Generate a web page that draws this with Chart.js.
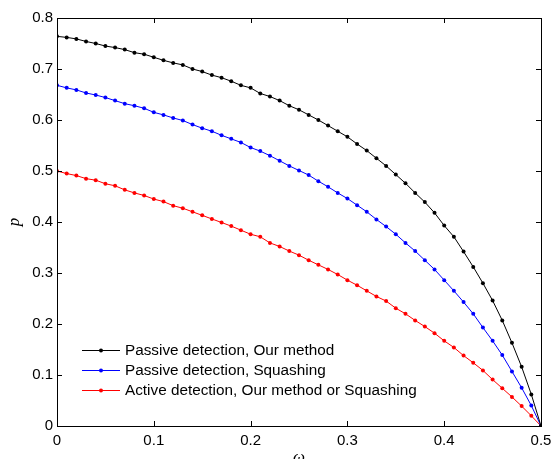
<!DOCTYPE html>
<html>
<head>
<meta charset="utf-8">
<script src="https://cdn.jsdelivr.net/npm/chart.js@4/dist/chart.umd.min.js"></script>
<style>
  html, body { margin: 0; padding: 0; background: #fff; overflow: hidden; }
  #wrap { width: 558px; height: 459px; overflow: hidden; position: relative; }
  canvas { display: block; }
</style>
</head>
<body>
<div id="wrap"><canvas id="c" width="558" height="470"></canvas></div>
<script>
// ---- data ----
const omega = [0.00,0.01,0.02,0.03,0.04,0.05,0.06,0.07,0.08,0.09,
               0.10,0.11,0.12,0.13,0.14,0.15,0.16,0.17,0.18,0.19,
               0.20,0.21,0.22,0.23,0.24,0.25,0.26,0.27,0.28,0.29,
               0.30,0.31,0.32,0.33,0.34,0.35,0.36,0.37,0.38,0.39,
               0.40,0.41,0.42,0.43,0.44,0.45,0.46,0.47,0.48,0.49,0.50];

const passiveOurs = [0.764,0.762,0.759,0.754,0.750,0.745,0.742,0.738,0.732,0.729,
                     0.723,0.717,0.712,0.708,0.700,0.695,0.688,0.683,0.676,0.668,
                     0.663,0.652,0.646,0.638,0.628,0.620,0.610,0.600,0.589,0.578,
                     0.567,0.553,0.540,0.525,0.510,0.493,0.476,0.457,0.439,0.418,
                     0.393,0.371,0.342,0.312,0.280,0.246,0.207,0.163,0.116,0.062,0.000];

const passiveSquash = [0.668,0.663,0.659,0.653,0.649,0.644,0.638,0.632,0.628,0.623,
                       0.615,0.610,0.604,0.599,0.591,0.584,0.578,0.570,0.563,0.556,
                       0.546,0.539,0.530,0.520,0.510,0.501,0.492,0.480,0.469,0.457,
                       0.446,0.433,0.420,0.405,0.391,0.376,0.359,0.343,0.325,0.307,
                       0.286,0.265,0.243,0.220,0.193,0.167,0.139,0.107,0.075,0.040,0.000];

const activeBoth = [0.500,0.495,0.491,0.485,0.482,0.475,0.471,0.463,0.457,0.452,
                    0.445,0.440,0.432,0.427,0.420,0.413,0.406,0.399,0.392,0.384,
                    0.376,0.371,0.359,0.352,0.343,0.335,0.325,0.316,0.307,0.297,
                    0.286,0.276,0.265,0.254,0.245,0.231,0.220,0.207,0.195,0.182,
                    0.167,0.154,0.138,0.124,0.109,0.091,0.074,0.057,0.039,0.020,0.000];

const seriesLabels = ["Passive detection, Our method",
                      "Passive detection, Squashing",
                      "Active detection, Our method or Squashing"];
const xTicks = [0, 0.1, 0.2, 0.3, 0.4, 0.5];
const xTickLabels = ["0", "0.1", "0.2", "0.3", "0.4", "0.5"];
const yTicks = [0, 0.1, 0.2, 0.3, 0.4, 0.5, 0.6, 0.7, 0.8];
const yTickLabels = ["0", "0.1", "0.2", "0.3", "0.4", "0.5", "0.6", "0.7", "0.8"];
const xTitle = "ω";
const yTitle = "p";

// ---- chart ----
const colors = ["#000000", "#0000ff", "#ff0000"];
const seriesValues = [passiveOurs, passiveSquash, activeBoth];
const FONT = "'Liberation Sans', Arial, Helvetica, sans-serif";

const datasets = seriesValues.map((vals, i) => ({
  label: seriesLabels[i],
  data: omega.map((w, j) => ({ x: w, y: vals[j] })),
  borderColor: colors[i],
  backgroundColor: colors[i],
  borderWidth: 1,
  pointRadius: 2,
  pointBorderWidth: 0,
  pointBackgroundColor: colors[i],
  tension: 0,
  fill: false
}));

const boxAndTicks = {
  id: 'boxAndTicks',
  afterDraw(chart) {
    const { ctx, chartArea: a, scales: { x, y } } = chart;
    ctx.save();
    ctx.strokeStyle = '#000';
    ctx.lineWidth = 1;
    const L = 5;
    ctx.beginPath();
    xTicks.forEach(v => {
      const px = Math.round(x.getPixelForValue(v)) + 0.5;
      ctx.moveTo(px, a.bottom); ctx.lineTo(px, a.bottom - L);
      ctx.moveTo(px, a.top); ctx.lineTo(px, a.top + L);
    });
    yTicks.forEach(v => {
      const py = Math.round(y.getPixelForValue(v)) + 0.5;
      ctx.moveTo(a.left, py); ctx.lineTo(a.left + L, py);
      ctx.moveTo(a.right, py); ctx.lineTo(a.right - L, py);
    });
    ctx.stroke();
    ctx.strokeRect(Math.round(a.left) + 0.5, Math.round(a.top) + 0.5,
                   Math.round(a.right - a.left), Math.round(a.bottom - a.top));
    ctx.restore();
  }
};

const innerLegend = {
  id: 'innerLegend',
  afterDraw(chart) {
    const { ctx } = chart;
    ctx.save();
    ctx.font = "15.3px " + FONT;
    ctx.textBaseline = 'middle';
    ctx.textAlign = 'left';
    const rows = [350, 370, 390];
    chart.data.datasets.forEach((ds, i) => {
      const yy = rows[i] + 0.5;
      ctx.strokeStyle = ds.borderColor;
      ctx.lineWidth = 1;
      ctx.beginPath();
      ctx.moveTo(82, yy); ctx.lineTo(120, yy);
      ctx.stroke();
      ctx.fillStyle = ds.borderColor;
      ctx.beginPath();
      ctx.arc(101, yy, 2, 0, Math.PI * 2);
      ctx.fill();
      ctx.fillStyle = '#000';
      ctx.fillText(ds.label, 125, rows[i] + 1);
    });
    ctx.restore();
  }
};

new Chart(document.getElementById('c'), {
  type: 'line',
  data: { datasets },
  options: {
    responsive: false,
    animation: false,
    devicePixelRatio: 1,
    layout: { padding: { top: 18, right: 17, left: 0, bottom: 0 } },
    plugins: { legend: { display: false }, tooltip: { enabled: false } },
    elements: { line: { borderJoinStyle: 'round' } },
    scales: {
      x: {
        type: 'linear',
        min: 0, max: 0.5,
        afterFit(s) { s.height = 44; },
        afterBuildTicks(s) { s.ticks = xTicks.map(v => ({ value: v })); },
        grid: { display: false, drawTicks: false },
        border: { display: false },
        ticks: {
          padding: 6,
          color: '#000',
          font: { family: FONT, size: 15 },
          maxRotation: 0,
          callback: (v) => { const k = xTicks.findIndex(t => Math.abs(t - v) < 1e-9); return k >= 0 ? xTickLabels[k] : ''; }
        },
        title: {
          display: true, text: xTitle, color: '#000',
          font: { family: "'Liberation Serif', 'Times New Roman', serif", size: 17, style: 'italic' },
          padding: { top: 0, bottom: 2 }
        }
      },
      y: {
        type: 'linear',
        min: 0, max: 0.8,
        afterFit(s) { s.width = 57; },
        afterBuildTicks(s) { s.ticks = yTicks.map(v => ({ value: v })); },
        grid: { display: false, drawTicks: false },
        border: { display: false },
        ticks: {
          padding: 4,
          color: '#000',
          font: { family: FONT, size: 15 },
          callback: (v) => { const k = yTicks.findIndex(t => Math.abs(t - v) < 1e-9); return k >= 0 ? yTickLabels[k] : ''; }
        },
        title: {
          display: true, text: yTitle, color: '#000',
          font: { family: "'Liberation Serif', 'Times New Roman', serif", size: 17, style: 'italic' },
          padding: { top: 4, bottom: 0 }
        }
      }
    }
  },
  plugins: [boxAndTicks, innerLegend]
});
</script>
</body>
</html>
